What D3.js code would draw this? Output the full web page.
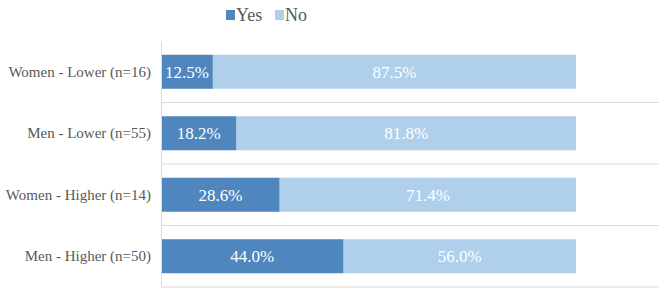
<!DOCTYPE html>
<html><head><meta charset="utf-8">
<script src="https://cdn.jsdelivr.net/npm/d3@7"></script>
<style>body{margin:0;background:#fff}svg{display:block}svg text{font-family:"Liberation Serif","Times New Roman",Times,serif}</style>
</head><body>
<svg id="c" width="669" height="296"></svg>
<script>
const categories = ["Women - Lower (n=16)", "Men - Lower (n=55)", "Women - Higher (n=14)", "Men - Higher (n=50)"];
const yesValues = [12.5, 18.2, 28.6, 44.0];
const noValues = [87.5, 81.8, 71.4, 56.0];
const seriesNames = ["Yes", "No"];
const colors = ["#4f86bd", "#b0cfeb"];

(function () {
const svg = d3.select("#c");
const mLeft = 161, mRight = 576, gridRight = 659, mTop = 41, mBottom = 287;

const x = d3.scaleLinear().domain([0, 100]).range([mLeft, mRight]);
const y = d3.scaleBand().domain(categories).range([mTop, mBottom]).paddingInner(0.447).paddingOuter(0.2235);
const yOuter = d3.scaleBand().domain(categories).range([mTop, mBottom]);

// separators
svg.append("g").selectAll("line").data(categories).join("line")
  .attr("x1", mLeft).attr("x2", gridRight)
  .attr("y1", d => yOuter(d) + yOuter.bandwidth()).attr("y2", d => yOuter(d) + yOuter.bandwidth())
  .attr("stroke", "#d9d9d9").attr("stroke-width", 1);

const stackData = categories.map((c, i) => ({cat: c, Yes: yesValues[i], No: noValues[i]}));
const stacked = d3.stack().keys(seriesNames)(stackData);

const g = svg.append("g");
stacked.forEach((s, si) => {
  g.append("g").selectAll("rect").data(s).join("rect")
    .attr("x", d => x(d[0])).attr("width", d => x(d[1]) - x(d[0]))
    .attr("y", d => y(d.data.cat)).attr("height", y.bandwidth())
    .attr("fill", colors[si]);
});
stacked.forEach((s, si) => {
  g.append("g").selectAll("text").data(s).join("text")
    .attr("x", d => (x(d[0]) + x(d[1])) / 2)
    .attr("y", d => y(d.data.cat) + y.bandwidth() / 2)
    .attr("dy", "0.35em").attr("text-anchor", "middle")
    .style("font-size", "17px").attr("fill", "#fff")
    .text(d => (d[1] - d[0]).toFixed(1) + "%");
});

// axis
const yAxis = d3.axisLeft(yOuter).tickSize(0).tickPadding(10);
const ag = svg.append("g").attr("transform", `translate(${mLeft},0)`).call(yAxis);
ag.attr("font-family", null);
ag.select(".domain").attr("stroke", "#d9d9d9").attr("d", `M0.5,${mTop}V${mBottom}`);
ag.selectAll("text").style("font-size", "15px").attr("fill", "#595959");

// legend
const legend = svg.append("g");
const legX = [226, 275];
seriesNames.forEach((n, i) => {
  legend.append("rect").attr("x", legX[i]).attr("y", 10).attr("width", 9).attr("height", 10).attr("fill", colors[i]);
  legend.append("text").attr("x", legX[i] + 10).attr("y", 15).attr("dy", "0.35em")
    .style("font-size", "18px").attr("fill", "#595959").text(n);
});
})();
</script>
</body></html>
